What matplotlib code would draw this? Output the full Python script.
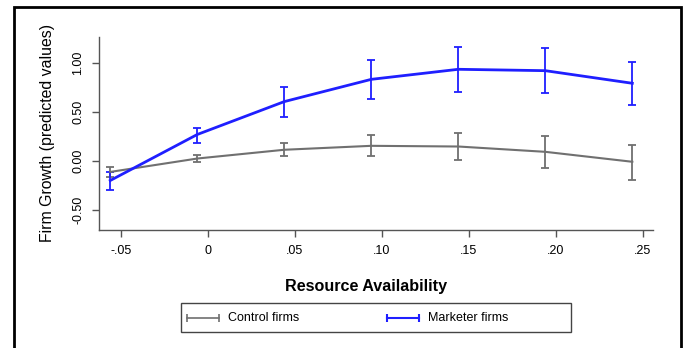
import numpy as np
import matplotlib
matplotlib.use('Agg')
import matplotlib.pyplot as plt
from matplotlib.patches import Rectangle
from matplotlib.lines import Line2D

plt.rcParams['font.family'] = ['Liberation Sans', 'DejaVu Sans']

# resource availability values where predictions were computed
x = [-0.056, -0.006, 0.044, 0.094, 0.144, 0.194, 0.244]

# control firms: predicted growth and CI bounds
ctrl = [-0.11, 0.026, 0.115, 0.155, 0.148, 0.094, -0.007]
ctrl_hi = [-0.058, 0.06, 0.18, 0.263, 0.284, 0.25, 0.168]
ctrl_lo = [-0.166, -0.007, 0.047, 0.047, 0.006, -0.068, -0.19]

# marketer firms
mkt = [-0.197, 0.27, 0.604, 0.83, 0.932, 0.918, 0.79]
mkt_hi = [-0.115, 0.337, 0.75, 1.026, 1.16, 1.148, 1.006]
mkt_lo = [-0.29, 0.18, 0.45, 0.628, 0.70, 0.689, 0.567]

xticks = [-0.05, 0, 0.05, 0.10, 0.15, 0.20, 0.25]
xticklabels = ['-.05', '0', '.05', '.10', '.15', '.20', '.25']
yticks = [-0.5, 0, 0.5, 1.0]
yticklabels = ['-0.50', '0.00', '0.50', '1.00']
series_names = ['Control firms', 'Marketer firms']

gray = '#707070'
blue = '#1f1fff'

W, H = 683, 348
fig = plt.figure(figsize=(W / 100, H / 100), dpi=100)
ax = fig.add_axes([0.1454, 0.339, 0.8102, 0.5547])

def fx(px):
    return px / W

def fy(py):
    return 1 - py / H

def draw(y, lo, hi, color, lw):
    y = np.array(y)
    err = [y - np.array(lo), np.array(hi) - y]
    ax.errorbar(x, y, yerr=err, color=color, lw=lw, elinewidth=1.3,
                capsize=3, capthick=1.3)

draw(ctrl, ctrl_lo, ctrl_hi, gray, 1.5)
draw(mkt, mkt_lo, mkt_hi, blue, 2.0)

ax.set_xlim(-0.0623, 0.2557)
ax.set_ylim(-0.70, 1.26)
ax.set_xticks(xticks)
ax.set_xticklabels(xticklabels, fontsize=9)
ax.set_yticks(yticks)
ax.set_yticklabels(yticklabels, fontsize=9, rotation=90, va='center')
for s in ['top', 'right']:
    ax.spines[s].set_visible(False)
for s in ['left', 'bottom']:
    ax.spines[s].set_color('#555555')
    ax.spines[s].set_linewidth(1.0)
ax.tick_params(colors='#555555', labelcolor='black', length=5, width=1.0, pad=6)

ax.set_ylabel('Firm Growth (predicted values)', fontsize=11.4, va='center')
ax.yaxis.set_label_coords(fx(47.3), fy(132.5), transform=fig.transFigure)
ax.set_xlabel('Resource Availability', fontsize=11.6, fontweight='bold', va='center')
ax.xaxis.set_label_coords(fx(366), fy(286.7), transform=fig.transFigure)

# legend box with two equal-width columns
fig.patches.append(Rectangle((fx(181), fy(332)), fx(571) - fx(181), fy(303.3) - fy(332),
                             transform=fig.transFigure, fill=False,
                             edgecolor='#444444', lw=1.0))
for x0, col, lw, name in [(187, gray, 1.2, series_names[0]), (387, blue, 1.5, series_names[1])]:
    fig.add_artist(Line2D([fx(x0), fx(x0 + 32)], [fy(318.3), fy(318.3)], color=col, lw=lw,
                          marker='|', markersize=6, markeredgewidth=lw,
                          transform=fig.transFigure))
    fig.text(fx(x0 + 41), fy(318.3), name, fontsize=9, va='center', ha='left')

# outer frame around the figure
fig.patches.append(Rectangle((0.0205, -0.05), 0.976, 1.03, transform=fig.transFigure,
                             fill=False, edgecolor='black', lw=2))

fig.savefig('out.png', dpi=100)
